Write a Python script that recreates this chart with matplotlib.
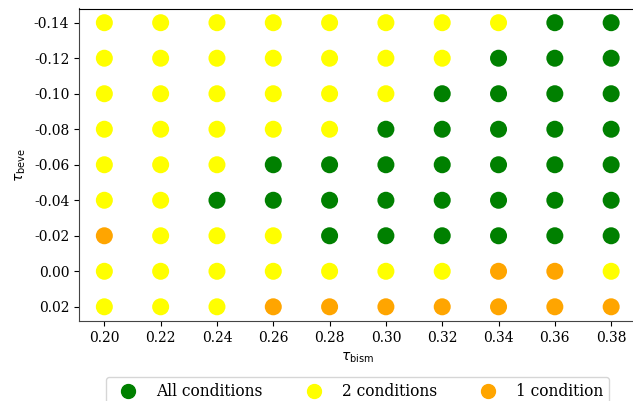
import matplotlib
matplotlib.use("Agg")
import matplotlib.pyplot as plt
from matplotlib.lines import Line2D
import numpy as np

plt.rcParams['font.family'] = 'DejaVu Serif'
plt.rcParams['mathtext.fontset'] = 'dejavusans'

tau_bism = [0.20, 0.22, 0.24, 0.26, 0.28, 0.30, 0.32, 0.34, 0.36, 0.38]
tau_beve = [-0.14, -0.12, -0.10, -0.08, -0.06, -0.04, -0.02, 0.00, 0.02]
# number of conditions satisfied: 3 = all, 2, 1 ; rows follow tau_beve, columns tau_bism
status = [
    [2, 2, 2, 2, 2, 2, 2, 2, 3, 3],
    [2, 2, 2, 2, 2, 2, 2, 3, 3, 3],
    [2, 2, 2, 2, 2, 2, 3, 3, 3, 3],
    [2, 2, 2, 2, 2, 3, 3, 3, 3, 3],
    [2, 2, 2, 3, 3, 3, 3, 3, 3, 3],
    [2, 2, 3, 3, 3, 3, 3, 3, 3, 3],
    [1, 2, 2, 2, 3, 3, 3, 3, 3, 3],
    [2, 2, 2, 2, 2, 2, 2, 1, 1, 2],
    [2, 2, 2, 1, 1, 1, 1, 1, 1, 1],
]
colors = {3: 'green', 2: 'yellow', 1: 'orange'}
labels = {3: 'All conditions', 2: '2 conditions', 1: '1 condition'}

fig = plt.figure(figsize=(6.33, 4.01), dpi=100)
ax = fig.add_axes([79/633, 1 - 321/401, 557.5/633, 312.5/401])

xs, ys, cs = [], [], []
for i, yv in enumerate(tau_beve):
    for j, xv in enumerate(tau_bism):
        xs.append(xv); ys.append(yv); cs.append(colors[status[i][j]])
ax.scatter(xs, ys, c=cs, s=150, edgecolors='none')

ax.set_xticks(tau_bism)
ax.set_xticklabels([f"{v:.2f}" for v in tau_bism])
ax.set_yticks(tau_beve)
ax.set_yticklabels([f"{v:.2f}" for v in tau_beve])
ax.set_ylim(0.028, -0.148)
ax.set_xlim(0.191, 0.389)
ax.set_xlabel(r'$\tau_{\rm bism}$')
ax.set_ylabel(r'$\tau_{\rm beve}$')
ax.spines['right'].set_visible(False)
for s in ['left', 'bottom']:
    ax.spines[s].set_color('#444444')

handles = [Line2D([0], [0], marker='o', linestyle='', color=colors[k],
                  markersize=10, label=labels[k]) for k in (3, 2, 1)]
ax.legend(handles=handles, loc='upper center', bbox_to_anchor=(0.5, -0.179),
          ncol=3, borderaxespad=0, columnspacing=2.3, fontsize=11.2)

fig.savefig('out.png', dpi=100)
